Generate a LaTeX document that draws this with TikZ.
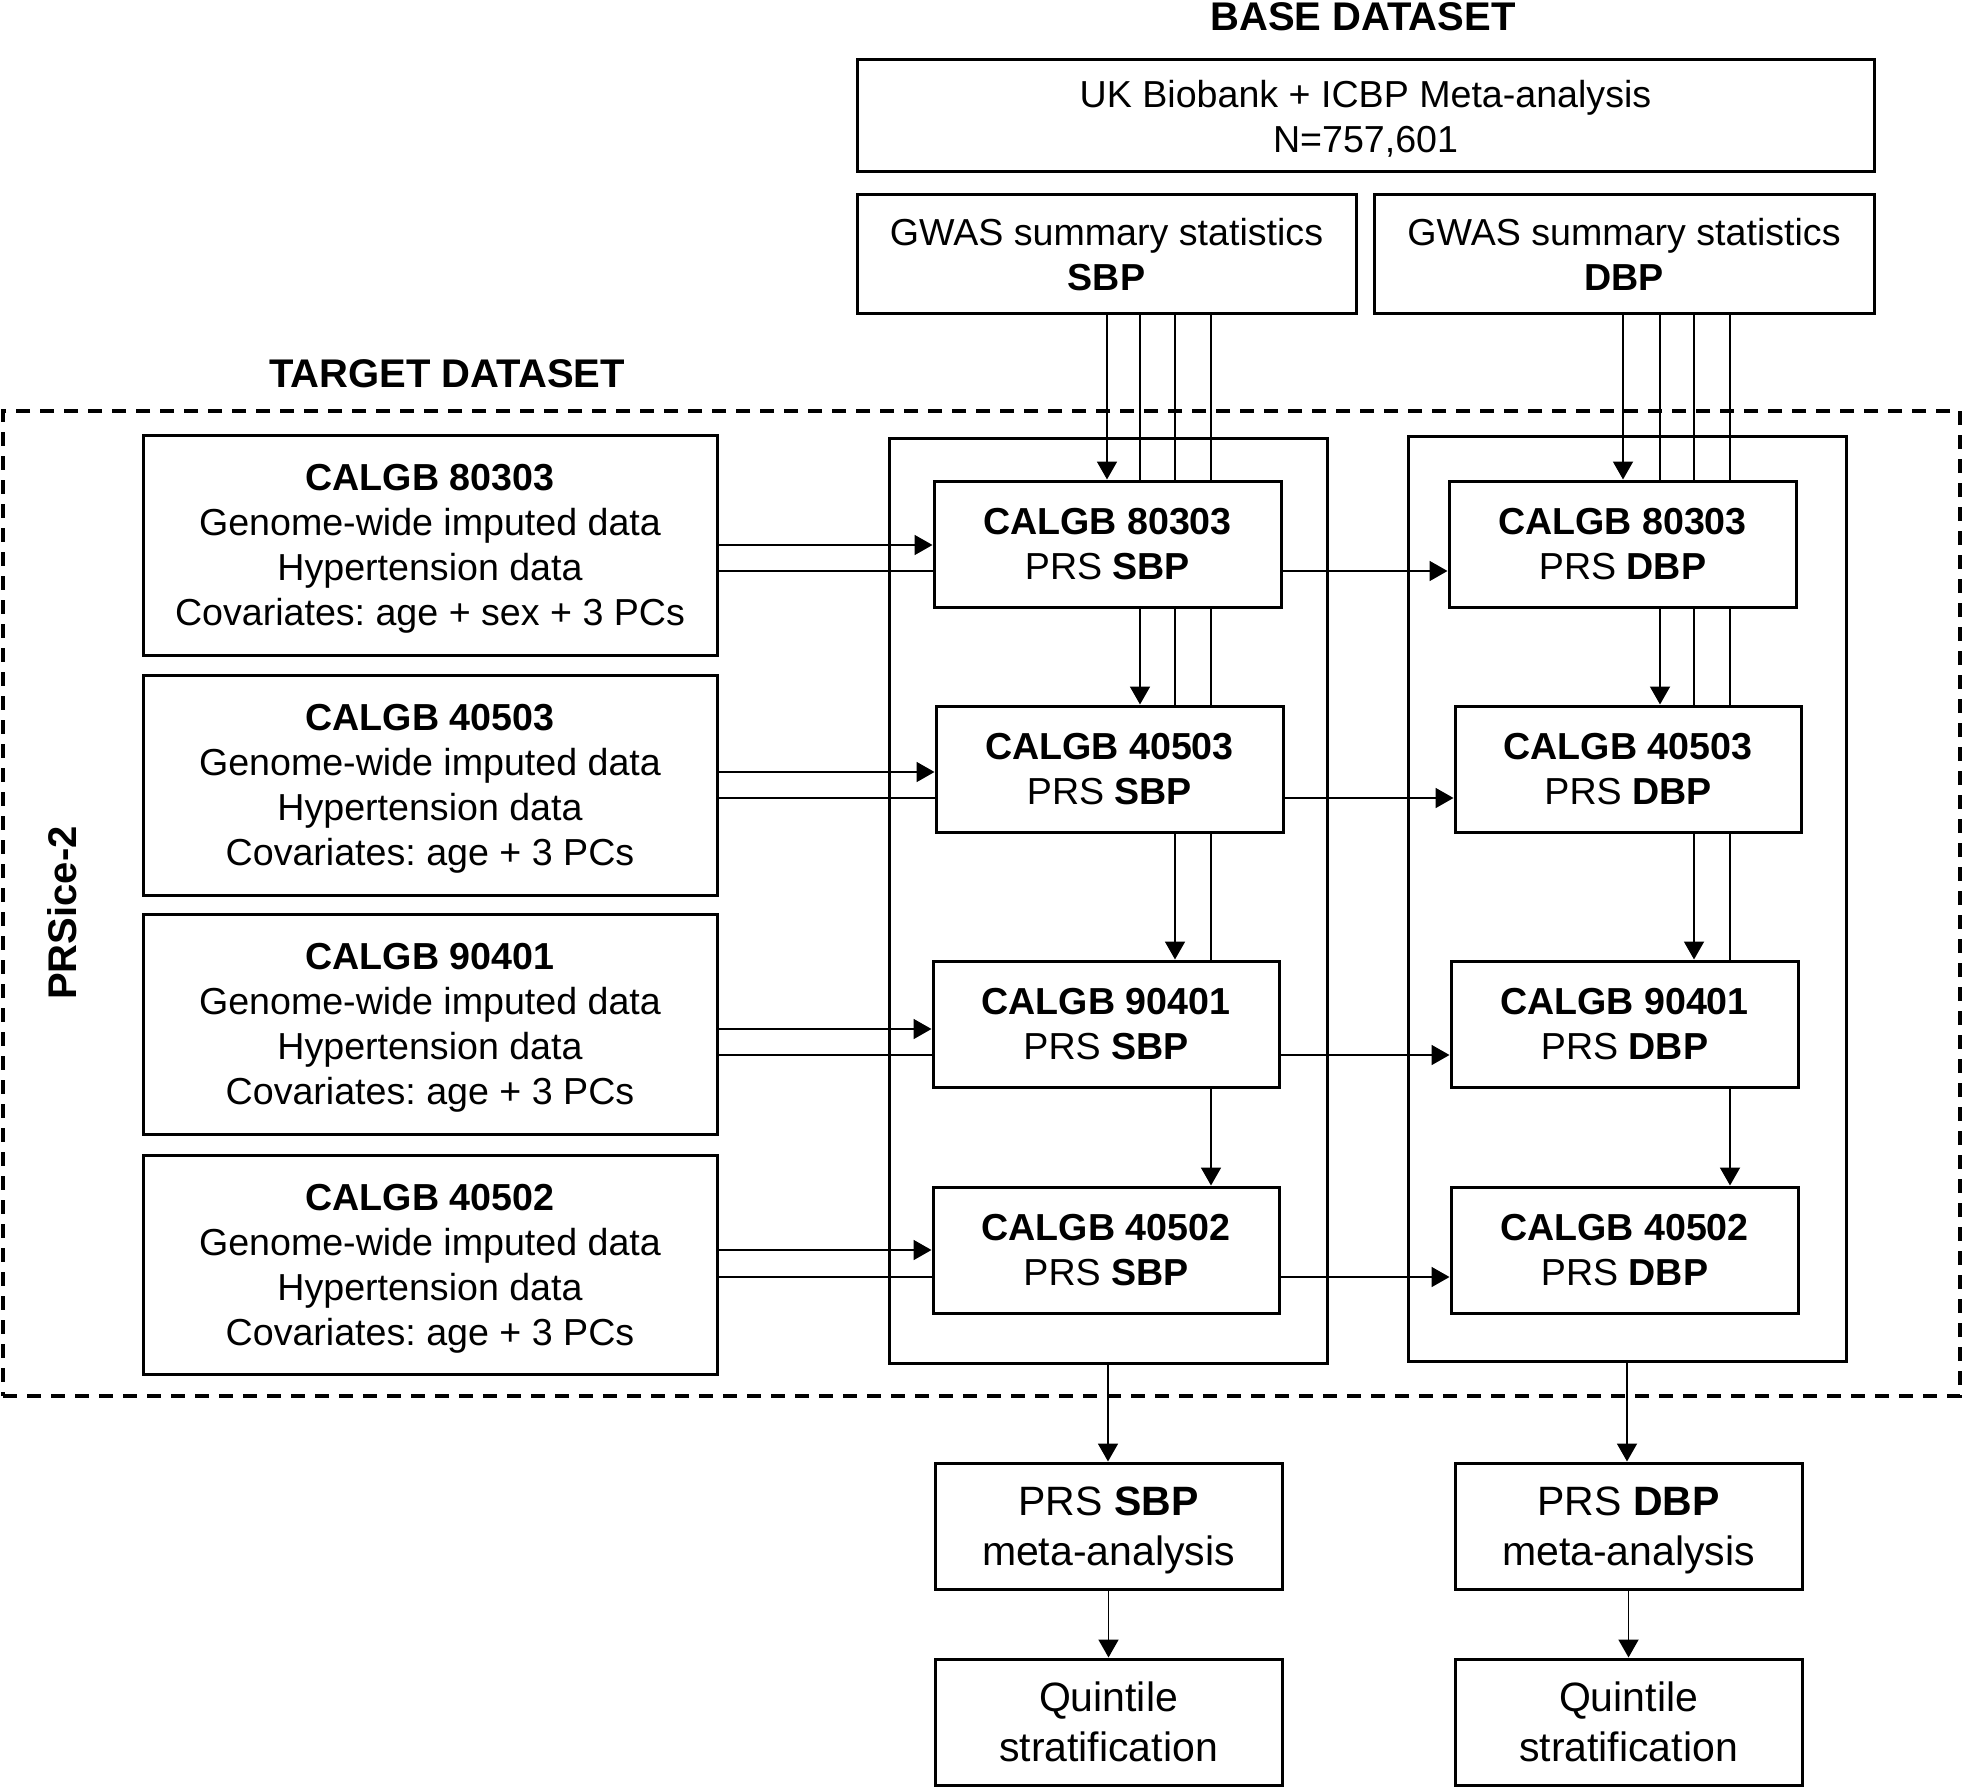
\documentclass[tikz,border=0pt]{standalone}
\usepackage{fontspec}
\setmainfont{Liberation Sans}
\usetikzlibrary{arrows.meta}
\pgfdeclarelayer{back}
\pgfdeclarelayer{mid}
\pgfsetlayers{back,mid,main}
\frenchspacing
\begin{document}
\frenchspacing
\begin{tikzpicture}[x=0.5pt,y=-0.5pt,
  sz/.style 2 args={minimum width=#1*0.5pt,minimum height=#2*0.5pt},
  box/.style={draw,line width=1.5pt,fill=white,inner sep=0pt,align=center,text depth=0pt,font=\fontsize{18.8}{22.5}\selectfont},
  big/.style={box,font=\fontsize{20.5}{25}\selectfont},
  cont/.style={draw,line width=1.5pt,inner sep=0pt},
  frame/.style={draw,line width=1.6pt,dash pattern=on 7pt off 5pt,inner sep=0pt},
  conn/.style={line width=0.9pt},
  arr/.style={conn,-{Triangle[width=10pt,length=9pt]}},
  ttl/.style={font=\fontsize{20}{24}\selectfont\bfseries,inner sep=0pt}]
\useasboundingbox (0,0) rectangle (1964,1787);

% titles
\node[ttl,anchor=base] (tb) at (1363,31) {BASE DATASET};
\node[ttl,anchor=base] (tt) at (447,387) {TARGET DATASET};
\node[ttl,rotate=90] (tp) at (62,913) {PRSice-2};

% base dataset
\node[box,sz={1017}{112}] (top) at (1365.5,116) {UK Biobank + ICBP Meta-analysis\\N=757,601};
\node[box,sz={499}{118}] (gs) at (1106.5,254) {GWAS summary statistics\\\textbf{SBP}};
\node[box,sz={500}{118}] (gd) at (1624,254) {GWAS summary statistics\\\textbf{DBP}};

% target frame and containers
\node[frame,sz={1957}{985}] (tgt) at (981.5,903.5) {};
\node[cont,sz={438}{925}] (cs) at (1108,900.5) {};
\node[cont,sz={438}{925}] (cd) at (1627,898.5) {};

% left boxes
\node[box,sz={574}{220}] (L1) at (430,545) {\textbf{CALGB 80303}\\Genome-wide imputed data\\Hypertension data\\Covariates: age + sex + 3 PCs};
\node[box,sz={574}{220}] (L2) at (430,785) {\textbf{CALGB 40503}\\Genome-wide imputed data\\Hypertension data\\Covariates: age + 3 PCs};
\node[box,sz={574}{220}] (L3) at (430,1024) {\textbf{CALGB 90401}\\Genome-wide imputed data\\Hypertension data\\Covariates: age + 3 PCs};
\node[box,sz={574}{219}] (L4) at (430,1264.5) {\textbf{CALGB 40502}\\Genome-wide imputed data\\Hypertension data\\Covariates: age + 3 PCs};

% SBP boxes
\node[box,sz={347}{126}] (S1) at (1107.5,544) {\textbf{CALGB 80303}\\PRS \textbf{SBP}};
\node[box,sz={347}{126}] (S2) at (1109.5,769) {\textbf{CALGB 40503}\\PRS \textbf{SBP}};
\node[box,sz={346}{126}] (S3) at (1106,1024) {\textbf{CALGB 90401}\\PRS \textbf{SBP}};
\node[box,sz={346}{126}] (S4) at (1106,1250) {\textbf{CALGB 40502}\\PRS \textbf{SBP}};

% DBP boxes
\node[box,sz={347}{126}] (D1) at (1622.5,544) {\textbf{CALGB 80303}\\PRS \textbf{DBP}};
\node[box,sz={346}{126}] (D2) at (1628,769) {\textbf{CALGB 40503}\\PRS \textbf{DBP}};
\node[box,sz={347}{126}] (D3) at (1624.5,1024) {\textbf{CALGB 90401}\\PRS \textbf{DBP}};
\node[box,sz={347}{126}] (D4) at (1624.5,1250) {\textbf{CALGB 40502}\\PRS \textbf{DBP}};

% meta and quintile
\node[big,sz={347}{126}] (MS) at (1108.5,1526) {PRS \textbf{SBP}\\meta-analysis};
\node[big,sz={347}{126}] (MD) at (1628.5,1526) {PRS \textbf{DBP}\\meta-analysis};
\node[big,sz={347}{126}] (QS) at (1108.5,1722) {Quintile\\stratification};
\node[big,sz={347}{126}] (QD) at (1628.5,1722) {Quintile\\stratification};

% helper coordinates
\coordinate (xa) at (1107,0);
\coordinate (xb) at (1140,0);
\coordinate (xc) at (1175,0);
\coordinate (xd) at (1211,0);
\coordinate (xe) at (1623,0);
\coordinate (xf) at (1660,0);
\coordinate (xg) at (1694,0);
\coordinate (xh) at (1730,0);
\coordinate (xm) at (1108,0);
\coordinate (xn) at (1627,0);
\coordinate (r1a) at (0,545);
\coordinate (r1b) at (0,571);
\coordinate (r2a) at (0,772);
\coordinate (r2b) at (0,798);
\coordinate (r3a) at (0,1029);
\coordinate (r3b) at (0,1055);
\coordinate (r4a) at (0,1250);
\coordinate (r4b) at (0,1277);

\begin{pgfonlayer}{mid}
% from GWAS SBP
\draw[arr] (gs.south -| xa) -- (S1.north -| xa);
\draw[arr] (gs.south -| xb) -- (S2.north -| xb);
\draw[arr] (gs.south -| xc) -- (S3.north -| xc);
\draw[arr] (gs.south -| xd) -- (S4.north -| xd);
% from GWAS DBP
\draw[arr] (gd.south -| xe) -- (D1.north -| xe);
\draw[arr] (gd.south -| xf) -- (D2.north -| xf);
\draw[arr] (gd.south -| xg) -- (D3.north -| xg);
\draw[arr] (gd.south -| xh) -- (D4.north -| xh);
% from target cohorts
\draw[arr] (L1.east |- r1a) -- (S1.west |- r1a);
\draw[arr] (L1.east |- r1b) -- (D1.west |- r1b);
\draw[arr] (L2.east |- r2a) -- (S2.west |- r2a);
\draw[arr] (L2.east |- r2b) -- (D2.west |- r2b);
\draw[arr] (L3.east |- r3a) -- (S3.west |- r3a);
\draw[arr] (L3.east |- r3b) -- (D3.west |- r3b);
\draw[arr] (L4.east |- r4a) -- (S4.west |- r4a);
\draw[arr] (L4.east |- r4b) -- (D4.west |- r4b);
% downstream
\draw[arr] (cs.south -| xm) -- (MS.north -| xm);
\draw[arr] (cd.south -| xn) -- (MD.north -| xn);
\draw[arr] (MS) -- (QS);
\draw[arr] (MD) -- (QD);
\end{pgfonlayer}
\end{tikzpicture}
\end{document}
